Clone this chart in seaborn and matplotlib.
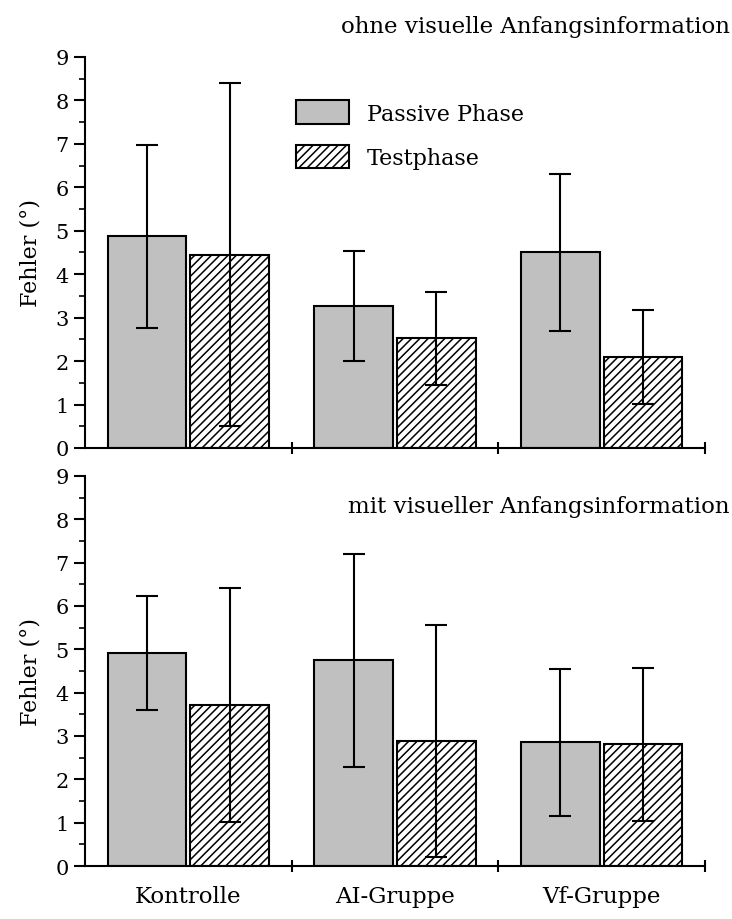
import numpy as np
import pandas as pd
import seaborn as sns
import matplotlib.pyplot as plt
from matplotlib.ticker import MultipleLocator, FixedLocator

# Gruppen und Phasen
gruppen = ['Kontrolle', 'AI-Gruppe', 'Vf-Gruppe']
phasen = ['Passive Phase', 'Testphase']

# ohne visuelle Anfangsinformation (Mittelwert und Streuung)
ohne_passiv = [4.87, 3.27, 4.50]
ohne_passiv_sd = [2.10, 1.26, 1.80]
ohne_test = [4.45, 2.52, 2.10]
ohne_test_sd = [3.95, 1.08, 1.08]

# mit visueller Anfangsinformation
mit_passiv = [4.92, 4.75, 2.85]
mit_passiv_sd = [1.32, 2.46, 1.70]
mit_test = [3.72, 2.88, 2.81]
mit_test_sd = [2.70, 2.68, 1.77]

sns.set_style('ticks')
plt.rcParams['font.family'] = ['DejaVu Serif']
plt.rcParams['font.size'] = 15
plt.rcParams['hatch.linewidth'] = 1.1
plt.rcParams['axes.linewidth'] = 1.5
plt.rcParams['text.color'] = 'black'
plt.rcParams['axes.labelcolor'] = 'black'
plt.rcParams['xtick.color'] = 'black'
plt.rcParams['ytick.color'] = 'black'
plt.rcParams['axes.edgecolor'] = 'black'


def panel(ax, passiv, passiv_sd, test, test_sd, xlabels=True):
    df = pd.DataFrame({
        'Gruppe': gruppen * 2,
        'Phase': [phasen[0]] * 3 + [phasen[1]] * 3,
        'Fehler': passiv + test,
    })
    sns.barplot(data=df, x='Gruppe', y='Fehler', hue='Phase', order=gruppen,
                hue_order=phasen, palette=['#c0c0c0', 'white'], edgecolor='black',
                linewidth=1.5, gap=0.05, errorbar=None, legend=False, ax=ax)
    for bar in ax.containers[1]:
        bar.set_hatch('////')

    # Fehlerbalken an den Balkenmitten
    for cont, sd in zip(ax.containers[:2], [passiv_sd, test_sd]):
        xs = [b.get_x() + b.get_width() / 2 for b in cont]
        ys = [b.get_height() for b in cont]
        ax.errorbar(xs, ys, yerr=sd, fmt='none', ecolor='black',
                    elinewidth=1.5, capsize=8, capthick=1.5, zorder=5)

    ax.set_xlim(-0.5, 2.5)
    ax.set_ylim(0, 9)
    ax.yaxis.set_major_locator(MultipleLocator(1))
    ax.yaxis.set_minor_locator(MultipleLocator(0.5))
    ax.xaxis.set_minor_locator(FixedLocator([0.5, 1.5, 2.5]))
    ax.tick_params(axis='y', which='major', direction='out', length=8, width=1.5, labelsize=15)
    ax.tick_params(axis='y', which='minor', direction='out', length=4, width=1.2)
    ax.tick_params(axis='x', which='major', length=0, pad=14, labelsize=16.5)
    ax.tick_params(axis='x', which='minor', direction='inout', length=9, width=1.5)
    ax.set_ylabel('Fehler (°)', fontsize=16, labelpad=10)
    ax.set_xlabel('')
    if not xlabels:
        ax.set_xticklabels([])
    sns.despine(ax=ax)


fig = plt.figure(figsize=(7.32, 9.2), dpi=100)
ax1 = fig.add_axes([0.116, 0.512, 0.847, 0.425])
ax2 = fig.add_axes([0.116, 0.0576, 0.847, 0.424])

panel(ax1, ohne_passiv, ohne_passiv_sd, ohne_test, ohne_test_sd, xlabels=False)
panel(ax2, mit_passiv, mit_passiv_sd, mit_test, mit_test_sd)

ax1.legend(handles=[ax1.containers[0][0], ax1.containers[1][0]], labels=phasen,
           loc='upper left', bbox_to_anchor=(0.308, 0.94), frameon=False,
           handlelength=2.4, handleheight=1.25, labelspacing=0.9,
           handletextpad=0.8, fontsize=16)

fig.text(0.997, 1 - 27 / 920, 'ohne visuelle Anfangsinformation', ha='right', va='center', fontsize=16.5)
fig.text(0.997, 1 - 507 / 920, 'mit visueller Anfangsinformation', ha='right', va='center', fontsize=16.5)

fig.savefig('out.png', dpi=100)
